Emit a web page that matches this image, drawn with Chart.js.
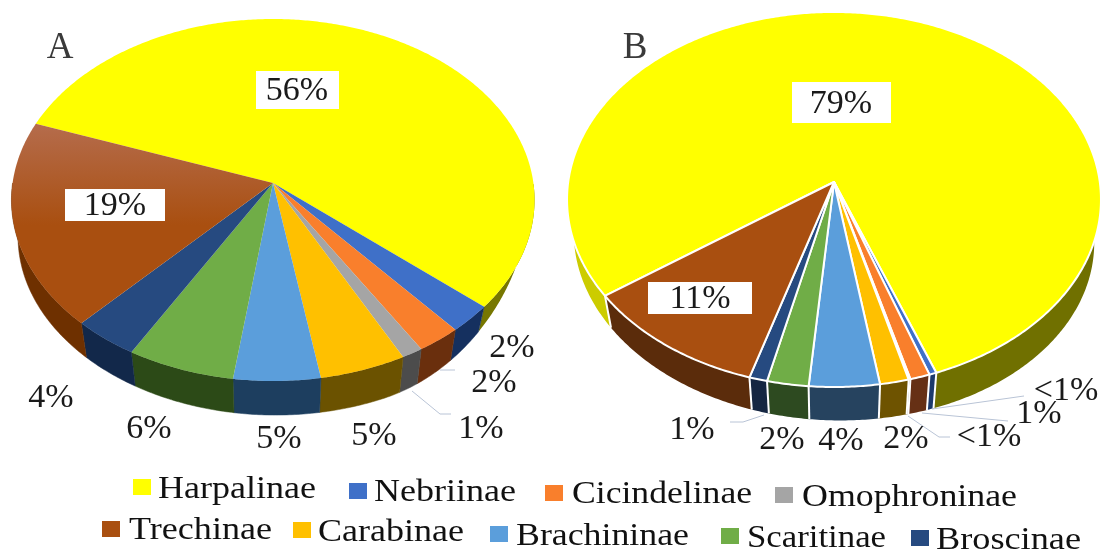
<!DOCTYPE html>
<html><head><meta charset="utf-8">
<script src="https://cdn.jsdelivr.net/npm/chart.js@4"></script>
<style>
html,body{margin:0;padding:0;background:#fff;overflow:hidden}
#stage{position:relative;width:1100px;height:551px;overflow:hidden}
canvas{position:absolute;left:0;top:0}
.lg{position:absolute;font:32px "Liberation Serif";color:#111;line-height:34px;white-space:nowrap;transform-origin:0 50%}
.mk{position:absolute;width:18px;height:16px}
</style></head><body>
<div id="stage"><canvas id="a" width="1100" height="551"></canvas><canvas id="b" width="1100" height="551"></canvas></div>
<script>
const categories=['Harpalinae','Nebriinae','Cicindelinae','Omophroninae','Carabinae','Brachininae','Scaritinae','Broscinae','Trechinae'];
const valuesA=[55.7,2.5,2.5,1.2,4.9,4.9,6.1,3.7,18.5];
const valuesB=[79.2,0.4,1.1,0.1,1.6,3.9,2.3,1.0,10.5];
const topColors=['#ffff00','#3f70c8','#f97f2c','#a5a5a5','#ffc000','#5b9edb','#70ad47','#264a80','#a94f10'];
const wallColorsA=['#777700','#15305f','#6a2f0d','#4c4c4c','#6b5200','#1d3e5f','#2c4a17','#12284a','#6e3000'];
const wallColorsB=['#707000','#1c3a6c','#663015','#4c4c4c','#6e5300','#26435f','#2d4a20','#152642','#5b2c0b'];
const legendRows=[
 {name:'Harpalinae',mx:133,my:479,tx:158,ty:487,w:158},
 {name:'Nebriinae',mx:349,my:483,tx:374,ty:490,w:142},
 {name:'Cicindelinae',mx:545,my:485,tx:572,ty:492,w:180},
 {name:'Omophroninae',mx:775,my:487,tx:802,ty:495,w:215},
 {name:'Trechinae',mx:102,my:521,tx:129,ty:528,w:143},
 {name:'Carabinae',mx:293,my:522,tx:318,ty:530,w:146},
 {name:'Brachininae',mx:490,my:526,tx:516,ty:534,w:173},
 {name:'Scaritinae',mx:721,my:528,tx:747,ty:536,w:139},
 {name:'Broscinae',mx:911,my:530,tx:936,ty:538,w:145}];
const labelsA=[
 {t:'A',x:60,y:47,size:37,c:'#3a3a3a'},
 {t:'56%',x:297,y:90,box:[256,71,83,38]},{t:'19%',x:115,y:205,box:[65,189,100,32]},
 {t:'2%',x:512,y:347},{t:'2%',x:494,y:382},{t:'1%',x:481,y:428},{t:'5%',x:374,y:435},
 {t:'5%',x:279,y:438},{t:'6%',x:149,y:428},{t:'4%',x:51,y:397}];
const labelsB=[
 {t:'B',x:635,y:47,size:37,c:'#3a3a3a'},
 {t:'79%',x:841,y:103,box:[792,82,99,41]},{t:'11%',x:700,y:298,box:[648,282,104,32]},
 {t:'<1%',x:1066,y:390},{t:'1%',x:1039,y:413},{t:'<1%',x:989,y:436},{t:'2%',x:906,y:438},
 {t:'4%',x:841,y:440},{t:'2%',x:782,y:439},{t:'1%',x:692,y:429}];
const leadersA=[[[412,391],[440,414],[451,414]],[[440,370],[455,370]]];
const leadersB=[[[932,409],[1024,396]],[[922,413],[1008,421]],[[908,416],[939,437],[950,437]],[[764,415],[743,422],[730,422]]];

const lensA={x0:273,y0:183,R:260.4,k:179.4,p:0.0939,s:0.975,d:39.5,e:2,taper:2.4,seam:false,leftWall:null,glow:8};
const lensB={x0:834,y0:182,R:265.8,k:185.9,p:0.0933,s:0.975,d:39,e:5,taper:0,seam:true,leftWall:'#cccc00',glow:-1};

function pt(L,a,r){const u=r*Math.cos(a),v=r*Math.sin(a),w=1-L.p*v;return [L.x0+L.R*u/w,L.y0+L.k*v/w];}
function low(L,a){const q=pt(L,a,L.s),u=Math.cos(a);
 let d=L.d+L.e*u;
 if(L.taper&&u>0.4)d*=Math.max(0,1-L.taper*(u-0.4)*(u-0.4));
 return [q[0],q[1]+d];}
function samples(a0,a1){const n=Math.max(2,Math.ceil((a1-a0)/0.01));const o=[];for(let i=0;i<=n;i++)o.push(a0+(a1-a0)*i/n);return o;}
function frontRuns(a0,a1){const runs=[];let cur=null;samples(a0,a1).forEach(a=>{if(Math.sin(a)>0){(cur=cur||[]).push(a);}else if(cur){runs.push(cur);cur=null;}});if(cur)runs.push(cur);return runs;}
function tracePoly(ctx,pts){ctx.beginPath();pts.forEach((p,i)=>i?ctx.lineTo(p[0],p[1]):ctx.moveTo(p[0],p[1]));ctx.closePath();}

function perspectivePlugin(L,walls,labels,leaders){return {id:'perspective',
 beforeDatasetDraw(chart,args){
  const ctx=chart.ctx,els=args.meta.data;
  const arcs=els.map(e=>e.getProps(['startAngle','endAngle']));
  ctx.save();
  arcs.forEach((A,i)=>{
   frontRuns(A.startAngle,A.endAngle).forEach(ang=>{
    const poly=ang.map(a=>pt(L,a,1)).concat(ang.slice().reverse().map(a=>low(L,a)));
    tracePoly(ctx,poly);
    const mid=ang[ang.length>>1];
    ctx.fillStyle=(i===0&&L.leftWall&&Math.cos(mid)<0)?L.leftWall:walls[i];
    ctx.fill();
    if(!L.seam&&i!==0){ctx.strokeStyle=walls[i];ctx.lineWidth=0.5;ctx.stroke();}
   });
  });
  if(L.seam){ctx.strokeStyle='#fff';ctx.lineWidth=2;
   arcs.forEach(A=>{if(Math.sin(A.startAngle)<=0)return;const p=pt(L,A.startAngle,1),q=low(L,A.startAngle);ctx.beginPath();ctx.moveTo(p[0],p[1]);ctx.lineTo(q[0],q[1]);ctx.stroke();});}
  arcs.forEach((A,i)=>{
   const poly=[pt(L,0,0)].concat(samples(A.startAngle,A.endAngle).map(a=>pt(L,a,1)));
   tracePoly(ctx,poly);
   let fill=els[i].options.backgroundColor;
   if(i===L.glow){const g=ctx.createLinearGradient(0,124,0,225);g.addColorStop(0,'#b56c4c');g.addColorStop(1,fill);fill=g;}
   ctx.fillStyle=fill;ctx.fill();
   if(els[i].options.borderWidth>0){ctx.strokeStyle=els[i].options.borderColor;ctx.lineWidth=els[i].options.borderWidth;ctx.lineJoin='round';ctx.stroke();}
  });
  ctx.restore();
  return false;
 },
 afterDatasetsDraw(chart){
  const ctx=chart.ctx;ctx.save();
  ctx.strokeStyle='#b9c4d6';ctx.lineWidth=1;
  leaders.forEach(l=>{ctx.beginPath();l.forEach((p,i)=>i?ctx.lineTo(p[0],p[1]):ctx.moveTo(p[0],p[1]));ctx.stroke();});
  labels.forEach(l=>{
   if(l.box){ctx.fillStyle='#fff';ctx.fillRect(l.box[0],l.box[1],l.box[2],l.box[3]);}
   ctx.font=(l.size||34)+'px "Liberation Serif"';ctx.textAlign='center';ctx.textBaseline='middle';
   ctx.fillStyle=l.c||'#1a1a1a';ctx.fillText(l.t,l.x,l.y+1);
  });
  ctx.restore();
 }};}

function makeChart(id,values,rotation,L,walls,labels,leaders,bw){
 return new Chart(document.getElementById(id),{type:'pie',
  data:{labels:categories,datasets:[{data:values,backgroundColor:topColors,borderColor:'#fff',borderWidth:bw}]},
  options:{responsive:false,animation:false,rotation:rotation,plugins:{legend:{display:false},tooltip:{enabled:false}}},
  plugins:[perspectivePlugin(L,walls,labels,leaders)]});
}
makeChart('a',valuesA,-70.1,lensA,wallColorsA,labelsA,leadersA,0);
makeChart('b',valuesB,-125.4,lensB,wallColorsB,labelsB,leadersB,2);

const stage=document.getElementById('stage');
legendRows.forEach(r=>{
 const m=document.createElement('div');m.className='mk';m.style.left=r.mx+'px';m.style.top=r.my+'px';
 m.style.background=topColors[categories.indexOf(r.name)];stage.appendChild(m);
 const s=document.createElement('div');s.className='lg';s.textContent=r.name;s.style.left=r.tx+'px';s.style.top=(r.ty-17)+'px';
 stage.appendChild(s);
 s.style.transform='scaleX('+(r.w/s.getBoundingClientRect().width)+')';
});
</script></body></html>
